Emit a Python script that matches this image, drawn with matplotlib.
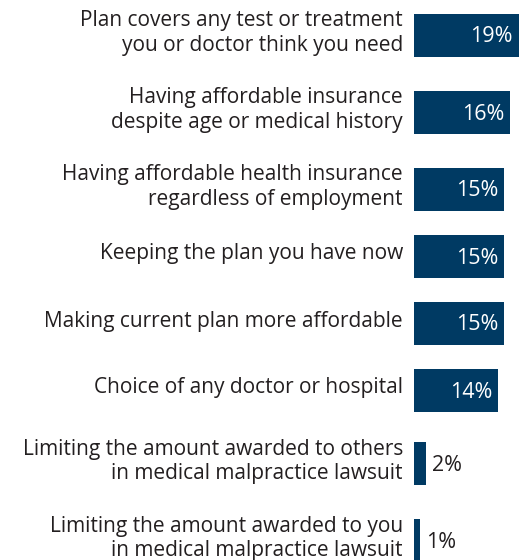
import matplotlib
matplotlib.use("Agg")
import matplotlib.pyplot as plt

labels = [
    "Plan covers any test or treatment\nyou or doctor think you need",
    "Having affordable insurance\ndespite age or medical history",
    "Having affordable health insurance\nregardless of employment",
    "Keeping the plan you have now",
    "Making current plan more affordable",
    "Choice of any doctor or hospital",
    "Limiting the amount awarded to others\nin medical malpractice lawsuit",
    "Limiting the amount awarded to you\nin medical malpractice lawsuit",
]
values = [19, 16, 15, 15, 15, 14, 2, 1]

bar_color = "#003a63"
text_color = "#231f20"

W, H = 519, 560
px_per_pct = 6.0
bar_left = 414
bar_h = 43

# vertical layout: two-line rows need more room than one-line rows
nlines = [lab.count("\n") + 1 for lab in labels]
ys = [35]
for prev, cur in zip(nlines[:-1], nlines[1:]):
    if cur == 1:
        step = 67
    elif prev == 2:
        step = 77
    else:
        step = 73.5
    ys.append(ys[-1] + step)

fig = plt.figure(figsize=(W / 100, H / 100), dpi=100)
ax = fig.add_axes([0, 0, 1, 1])
xmin = -bar_left / px_per_pct
xmax = (W - bar_left) / px_per_pct
ax.set_xlim(xmin, xmax)
ax.set_ylim(H, 0)
ax.axis("off")

font = "Open Sans"
ax.barh(ys, values, height=bar_h, color=bar_color, left=0)

for y, lab, v in zip(ys, labels, values):
    ax.text(-11 / px_per_pct, y - 2, lab, ha="right", va="center", fontsize=15,
            family=font, color=text_color, linespacing=1.22)
    if v >= 5:
        ax.text(min(v, xmax) - 6 / px_per_pct, y + 2, f"{v}%", ha="right", va="center",
                fontsize=15.5, family=font, color="white")
    else:
        ax.text(v + 6 / px_per_pct, y + 2, f"{v}%", ha="left", va="center",
                fontsize=15.5, family=font, color=text_color)

fig.savefig("out.png", dpi=100)
